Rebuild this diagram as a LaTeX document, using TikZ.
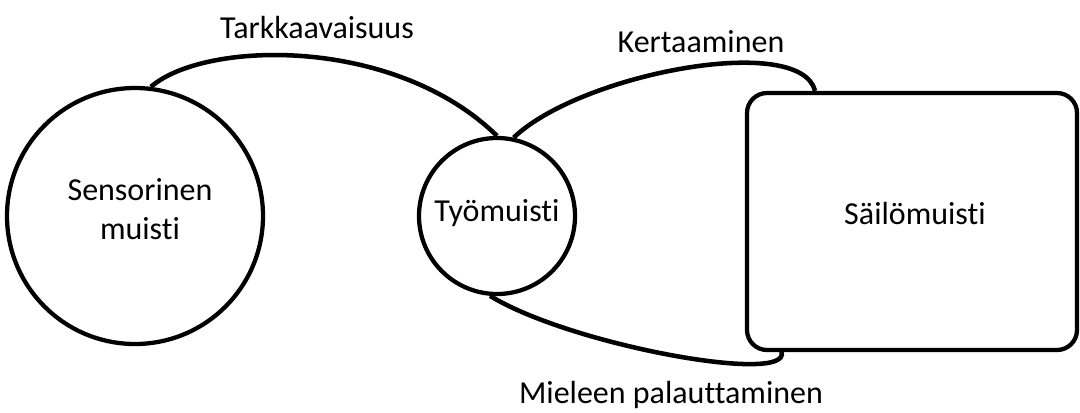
\documentclass[tikz,border=0pt]{standalone}
\usepackage{fontspec}
\setmainfont[Ligatures=NoCommon]{Carlito}
\usetikzlibrary{calc}
\begin{document}
\begin{tikzpicture}[x=0.75pt,y=-0.75pt,
  shapeline/.style={draw=black,line width=3.2pt},
  conn/.style={draw=black,line width=3.4pt},
  lbl/.style={font=\fontsize{24}{29}\selectfont,inner sep=0pt,align=center}]
\useasboundingbox (0,0) rectangle (1080,412);
% shapes
\node[shapeline,circle,minimum size=192pt,inner sep=0pt] (sens) at (135,216) {};
\node[shapeline,circle,minimum size=117pt,inner sep=0pt] (work) at (497,216) {};
\node[shapeline,rectangle,rounded corners=15pt,minimum width=247.5pt,minimum height=192.75pt,inner sep=0pt] (store) at (912,221.5) {};
% texts
\node[lbl] (senst) at (140,209) {Sensorinen\\muisti};
\node[lbl] (workt) at (497,213) {Työmuisti};
\node[lbl] (storet) at (915,213) {Säilömuisti};
\node[lbl] (l1) at (317,28) {Tarkkaavaisuus};
\node[lbl] (l2) at (701,42) {Kertaaminen};
\node[lbl] (l3) at (671,395) {Mieleen palauttaminen};
% connector end points on the store box
\coordinate (storeTop) at ($(store.north west)!0.21!(store.north east)$);
\coordinate (storeBot) at ($(store.south west)!0.11!(store.south east)$);
% connectors
\draw[conn] (sens.83) .. controls (205,40) and (395,36) .. (work.90);
\draw[conn] (work.78) .. controls (580,74) and (800,32) .. (storeTop);
\draw[conn] (work.265) .. controls (570,345) and (790,385) .. (storeBot);
\end{tikzpicture}
\end{document}
